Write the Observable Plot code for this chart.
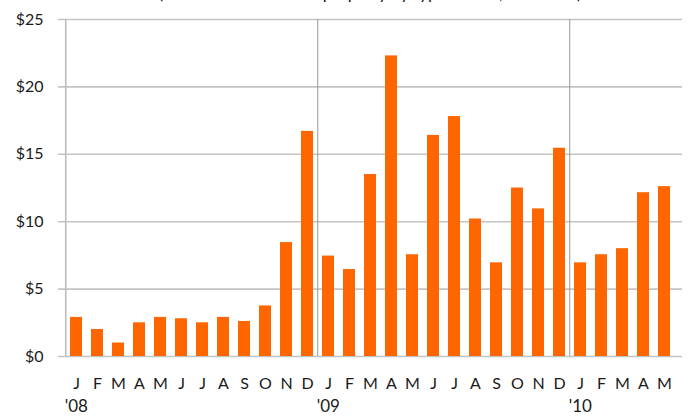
<!DOCTYPE html>
<html>
<head>
<meta charset="utf-8">
<script src="https://cdn.jsdelivr.net/npm/d3@7"></script>
<script src="https://cdn.jsdelivr.net/npm/@observablehq/plot@0.6"></script>
<style>
  body { margin: 0; background: #fff; overflow: hidden; position: relative; }
  #title { position: absolute; top: -17px; left: 0; font-family: Lato, sans-serif; font-size: 17px; color: #111; text-align: center;
           width: 690px; height: 20px; line-height: 20px; padding-left: 50px; box-sizing: border-box; }
  #chart svg { display: block; }
</style>
</head>
<body>
<div id="title">(Volume of distressed property by type of sale, in billions)</div>
<div id="chart"></div>
<script>
const monthLabels = ["J","F","M","A","M","J","J","A","S","O","N","D",
                     "J","F","M","A","M","J","J","A","S","O","N","D",
                     "J","F","M","A","M"];
const yearLabels = ["'08","","","","","","","","","","","",
                    "'09","","","","","","","","","","","",
                    "'10","","","",""];
const values = [2.9, 2.0, 1.0, 2.5, 2.9, 2.8, 2.5, 2.9, 2.6, 3.75, 8.45, 16.7,
                7.45, 6.45, 13.5, 22.3, 7.55, 16.4, 17.8, 10.2, 6.95, 12.5, 10.95, 15.45,
                6.95, 7.55, 8.0, 12.15, 12.6];
const yTicks = [0, 5, 10, 15, 20, 25];
const yearStarts = [0, 12, 24];

const data = values.map((v, i) => ({i, v, month: monthLabels[i], year: yearLabels[i]}));
const domain = data.map(d => d.i);

const W = 690, H = 417, mL = 58, mR = 8;
const step = (W - mL - mR) / domain.length;

const chart = Plot.plot({
  width: W,
  height: H,
  marginLeft: mL,
  marginRight: mR,
  marginTop: 19,
  marginBottom: 61,
  style: {fontFamily: "Lato, sans-serif", fontSize: "16px", color: "#1a1a1a", background: "#fff"},
  x: {domain, paddingInner: 0.44, paddingOuter: 0.22, axis: null},
  y: {domain: [0, 25], axis: null},
  marks: [
    Plot.ruleY(yTicks, {y: d => d, stroke: "#c4c4c4", strokeWidth: 1.6}),
    Plot.ruleX(yearStarts.slice(1), {x: d => d, y1: 0, y2: 25, dx: -step / 2, stroke: "#9a9a9a", strokeWidth: 1}),
    Plot.ruleX([0], {x: d => d, y1: 0, y2: 25, dx: -step / 2, stroke: "#bdbdbd", strokeWidth: 1.6}),
    Plot.barY(data, {x: "i", y: "v", fill: "#ff6600"}),
    Plot.axisY(yTicks, {tickSize: 0, tickPadding: 15, tickFormat: d => "$" + d, fill: "#1a1a1a", fontSize: 16, label: null}),
    Plot.axisX(domain, {tickSize: 0, tickPadding: 21, tickFormat: i => monthLabels[i], fill: "#1a1a1a", fontSize: 16, label: null}),
    Plot.text(data.filter(d => d.year), {x: "i", text: "year", frameAnchor: "bottom", textAnchor: "start", dx: -step / 2 - 1, dy: 55, fill: "#1a1a1a", fontSize: 17})
  ]
});
document.getElementById("chart").appendChild(chart);
</script>
</body>
</html>
